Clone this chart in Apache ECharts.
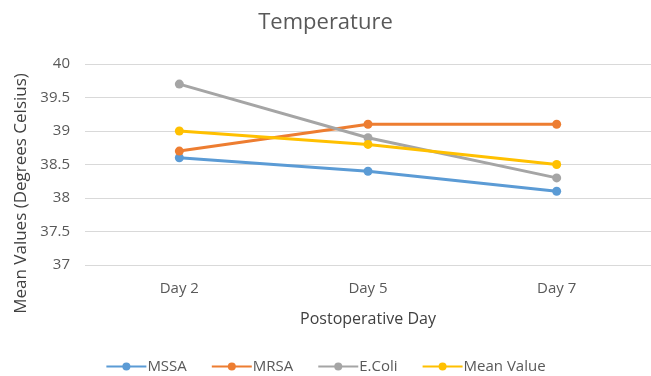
<!DOCTYPE html>
<html><head><meta charset="utf-8">
<script src="https://cdn.jsdelivr.net/npm/echarts@6/dist/echarts.min.js"></script>
<style>html,body{margin:0;padding:0;background:#fff}#c{width:651px;height:376px}</style>
</head><body><div id="c"></div>
<script>
const categories = ['Day 2', 'Day 5', 'Day 7'];
const mssa = [38.6, 38.4, 38.1];
const mrsa = [38.7, 39.1, 39.1];
const ecoli = [39.7, 38.9, 38.3];
const meanValue = [39.0, 38.8, 38.5];
const seriesNames = ['MSSA', 'MRSA', 'E.Coli', 'Mean Value'];
const colors = ['#5B9BD5', '#ED7D31', '#A5A5A5', '#FFC000'];
const font = '"Open Sans", sans-serif';
const chart = echarts.init(document.getElementById('c'));
const mk = (name, data, color) => ({
  name, type: 'line', data, color,
  symbol: 'circle', symbolSize: 9,
  lineStyle: { width: 3, color }, itemStyle: { color },
  animation: false
});
chart.setOption({
  animation: false,
  title: { text: 'Temperature', left: 'center', top: 7,
    textStyle: { fontFamily: font, fontSize: 22, fontWeight: 'normal', color: '#595959' } },
  grid: { left: 85, right: -3, top: 64, bottom: 111 },
  legend: { bottom: -3, left: 'center', itemWidth: 40, itemHeight: 10, itemGap: 24,
    data: seriesNames,
    textStyle: { fontFamily: font, fontSize: 15, color: '#595959', padding: [0,0,0,-4] } },
  xAxis: { type: 'category', data: categories, boundaryGap: true,
    name: 'Postoperative Day', nameLocation: 'middle', nameGap: 46,
    nameTextStyle: { fontFamily: font, fontSize: 16, color: '#404040' },
    axisLine: { show: false }, axisTick: { show: false },
    axisLabel: { fontFamily: font, fontSize: 15, color: '#595959', margin: 16 } },
  yAxis: { type: 'value', min: 37, max: 40, interval: 0.5,
    name: 'Mean Values (Degrees Celsius)', nameLocation: 'middle', nameGap: 54,
    nameTextStyle: { fontFamily: font, fontSize: 17, color: '#404040', padding: [0, 58, 0, 0] },
    axisLine: { show: false }, axisTick: { show: false },
    axisLabel: { fontFamily: font, fontSize: 15, color: '#595959', margin: 15 },
    splitLine: { lineStyle: { color: '#D9D9D9', width: 1 } } },
  series: [
    mk(seriesNames[0], mssa, colors[0]),
    mk(seriesNames[1], mrsa, colors[1]),
    mk(seriesNames[2], ecoli, colors[2]),
    mk(seriesNames[3], meanValue, colors[3])
  ]
});
</script></body></html>
